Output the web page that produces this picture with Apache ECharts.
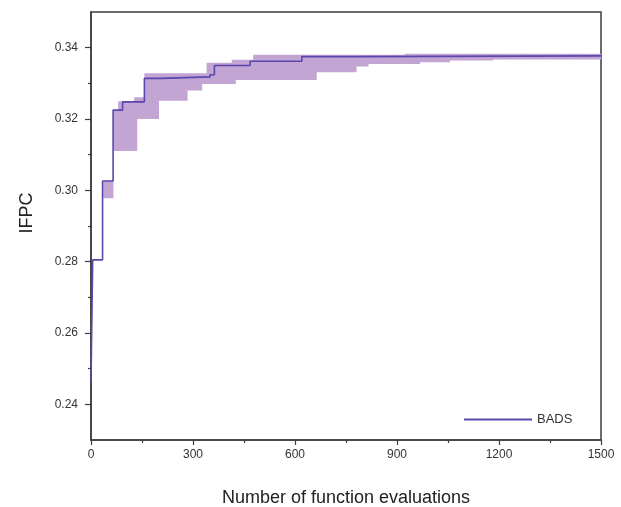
<!DOCTYPE html>
<html>
<head>
<meta charset="utf-8">
<script src="https://cdn.jsdelivr.net/npm/echarts@6/dist/echarts.min.js"></script>
<style>
  html, body { margin: 0; padding: 0; background: #fff; }
  #chart { width: 621px; height: 507px; }
</style>
</head>
<body>
<div id="chart"></div>
<script>
// Best-so-far IFPC of BADS, a step function: each value holds until the next evaluation count
const lineEvals = [0, 5, 34, 65, 93, 157, 206, 350, 363, 468, 620, 780, 1500];
const lineIFPC  = [0.2462, 0.2805, 0.3026, 0.3225, 0.3248, 0.3314, 0.3318, 0.3324, 0.3350, 0.3362, 0.3375, 0.3377, 0.3377];

// Spread band across runs: lower and upper bound starting at each breakpoint
const bandEvals = [36, 66, 80, 95, 127, 136, 157, 200, 284, 327, 340, 414, 426, 477, 664, 781, 816, 923, 968, 1056, 1183, 1500];
const bandLow   = [0.2978, 0.3110, 0.3110, 0.3110, 0.3110, 0.3200, 0.3200, 0.3251, 0.3280, 0.3298, 0.3298, 0.3298, 0.3309, 0.3309, 0.3331, 0.3347, 0.3354, 0.3354, 0.3359, 0.3364, 0.3367, 0.3367];
const bandHigh  = [0.3026, 0.3225, 0.3250, 0.3248, 0.3261, 0.3261, 0.3328, 0.3328, 0.3328, 0.3328, 0.3358, 0.3366, 0.3366, 0.3380, 0.3380, 0.3380, 0.3380, 0.3383, 0.3383, 0.3383, 0.3383, 0.3383];

const xTicks = [0, 300, 600, 900, 1200, 1500];
const yTicks = [0.24, 0.26, 0.28, 0.30, 0.32, 0.34];
const yMinorTicks = [0.25, 0.27, 0.29, 0.31, 0.33];

const seriesName = 'BADS';
const lineColor = '#5a46ad';
const bandColor = '#c2a5d3';
const axisColor = '#3d3d3d';
const font = '"Liberation Sans", Arial, sans-serif';

const chart = echarts.init(document.getElementById('chart'), null, { renderer: 'canvas' });

const lineData = lineEvals.map((x, i) => [x, lineIFPC[i]]);
const bandData = bandEvals.map((x, i) => [x, bandLow[i], bandHigh[i]]);

// Band polygon: upper bound as steps left to right, lower bound back right to left
function renderBand(params, api) {
  if (params.dataIndex !== 0) return null;
  const n = bandEvals.length;
  const pts = [];
  for (let i = 0; i < n - 1; i++) {
    pts.push(api.coord([bandEvals[i], bandHigh[i]]));
    pts.push(api.coord([bandEvals[i + 1], bandHigh[i]]));
  }
  for (let i = n - 2; i >= 0; i--) {
    pts.push(api.coord([bandEvals[i + 1], bandLow[i]]));
    pts.push(api.coord([bandEvals[i], bandLow[i]]));
  }
  return {
    type: 'polygon',
    shape: { points: pts },
    style: { fill: bandColor, stroke: null }
  };
}

chart.setOption({
  animation: false,
  backgroundColor: '#fff',
  grid: {
    left: 91, right: 20, top: 12, bottom: 67,
    containLabel: false, outerBoundsMode: 'none',
    show: true, borderColor: axisColor, borderWidth: 1.5, backgroundColor: 'transparent'
  },
  legend: {
    data: [{ name: seriesName, icon: 'rect' }],
    left: 459, top: 408,
    itemWidth: 68, itemHeight: 2,
    itemGap: 8,
    textStyle: { fontFamily: font, fontSize: 13, color: '#333' },
    selectedMode: false
  },
  xAxis: {
    type: 'value', min: 0, max: xTicks[xTicks.length - 1], interval: 300,
    axisLine: { show: true, lineStyle: { color: axisColor, width: 1.5 } },
    axisTick: { show: true, length: 5, lineStyle: { color: axisColor, width: 1.2 } },
    minorTick: { show: true, splitNumber: 2, length: 3, lineStyle: { color: axisColor, width: 1.2 } },
    splitLine: { show: false },
    axisLabel: { margin: 9, fontFamily: font, fontSize: 12, color: '#333', formatter: v => String(v) },
    name: 'Number of function evaluations',
    nameLocation: 'middle', nameGap: 49,
    nameTextStyle: { fontFamily: font, fontSize: 18, color: '#222' }
  },
  yAxis: [{
    type: 'value', min: 0.23, max: 0.35,
    axisLine: { show: true, lineStyle: { color: axisColor, width: 1.5 } },
    axisTick: { show: true, length: 6, customValues: yTicks, lineStyle: { color: axisColor, width: 1.2 } },
    splitLine: { show: false },
    axisLabel: {
      margin: 13, customValues: yTicks, fontFamily: font, fontSize: 12, color: '#333',
      formatter: v => v.toFixed(2)
    }
  }, {
    type: 'value', min: 0.23, max: 0.35, position: 'left',
    axisLine: { show: false },
    axisTick: { show: true, length: 3, customValues: yMinorTicks, lineStyle: { color: axisColor, width: 1.2 } },
    axisLabel: { show: false, customValues: yMinorTicks },
    splitLine: { show: false }
  }],
  graphic: [{
    type: 'text', x: 27, y: 213, rotation: Math.PI / 2,
    style: {
      text: 'IFPC', font: '18px ' + font, fill: '#222',
      textAlign: 'center', textVerticalAlign: 'middle'
    }
  }],
  series: [{
    name: 'band', type: 'custom',
    renderItem: renderBand,
    data: bandData,
    encode: { x: 0, y: [1, 2] },
    silent: true, z: 1
  }, {
    name: seriesName, type: 'line', step: 'end',
    data: lineData, showSymbol: false,
    lineStyle: { color: lineColor, width: 1.6 },
    itemStyle: { color: lineColor }, z: 3
  }]
});
</script>
</body>
</html>
